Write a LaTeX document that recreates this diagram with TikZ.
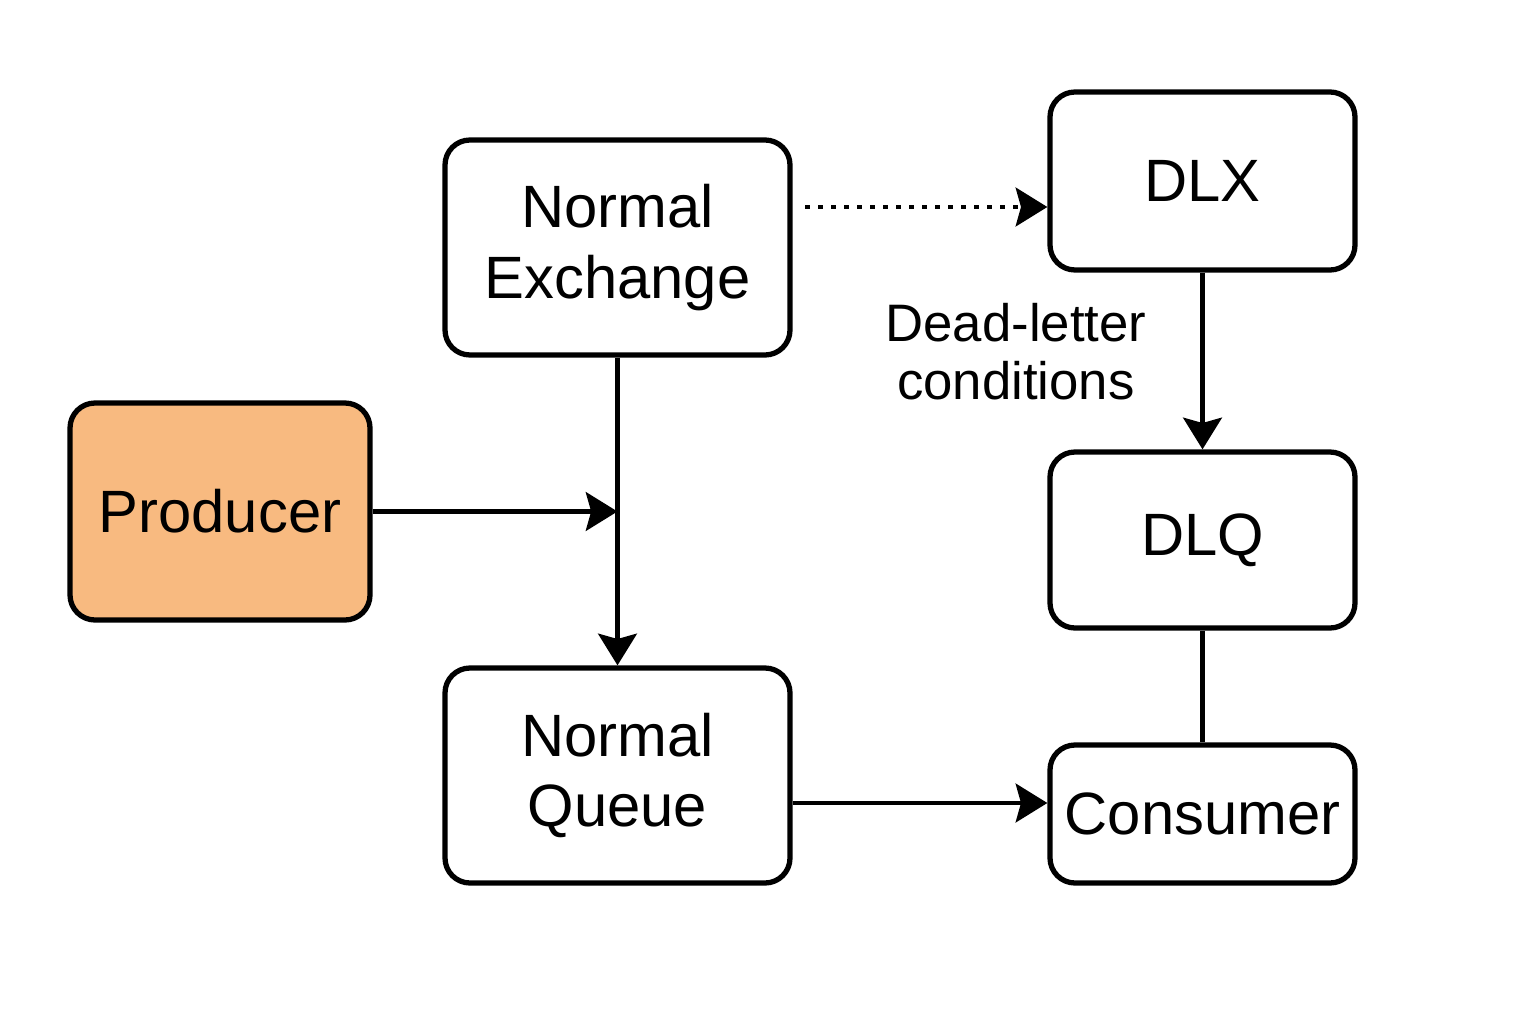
\documentclass[tikz,border=0pt]{standalone}
\usepackage{fontspec}
\setmainfont{Liberation Sans}
\usetikzlibrary{arrows.meta}
\definecolor{prodfill}{HTML}{F8BA80}
\tikzset{
  box/.style={draw,line width=1.5pt,rounded corners=0.25cm,align=center,
    inner sep=0pt,font=\fontsize{17}{20}\selectfont},
  flow/.style={line width=1.3pt,-{Stealth[width=11pt,length=9pt,inset=1.5pt]}}
}
\begin{document}
\begin{tikzpicture}

  \useasboundingbox (0,0) rectangle (15.36,10.24);
  \node[box,minimum width=3.45cm,minimum height=2.15cm] at (6.175,7.765) (exch) {Normal\\Exchange};
  \node[box,minimum width=3.05cm,minimum height=1.78cm] at (12.025,8.43) (dlx) {DLX};
  \node[box,fill=prodfill,minimum width=3.0cm,minimum height=2.17cm] at (2.20,5.125) (prod) {Producer};
  \node[box,minimum width=3.05cm,minimum height=1.76cm] at (12.025,4.84) (dlq) {DLQ};
  \node[box,minimum width=3.45cm,minimum height=2.15cm] at (6.175,2.485) (queue) {Normal\\Queue};
  \node[box,minimum width=3.05cm,minimum height=1.38cm] at (12.025,2.10) (cons) {Consumer};
  \node[align=center,font=\fontsize{15}{16.5}\selectfont] at (10.16,6.72) (cond) {Dead-letter\\conditions};

  % dead-letter routing
  \coordinate (dstart) at (8.05,8.17);
  \draw[flow,dash pattern=on 1.3pt off 2.4pt] (dstart) -- (dlx.west |- dstart);
  \draw[flow] (exch.south) -- (queue.north);
  \coordinate (join) at (exch.south |- prod.east);
  \draw[flow] (prod.east) -- (join);
  \draw[flow] (dlx.south) -- (dlq.north);
  \draw[line width=1.3pt] (dlq.south) -- (cons.north);
  \draw[flow] ([yshift=-0.275cm]queue.east) -- (cons.west |- 0,2.21);
    \end{tikzpicture}
\end{document}
